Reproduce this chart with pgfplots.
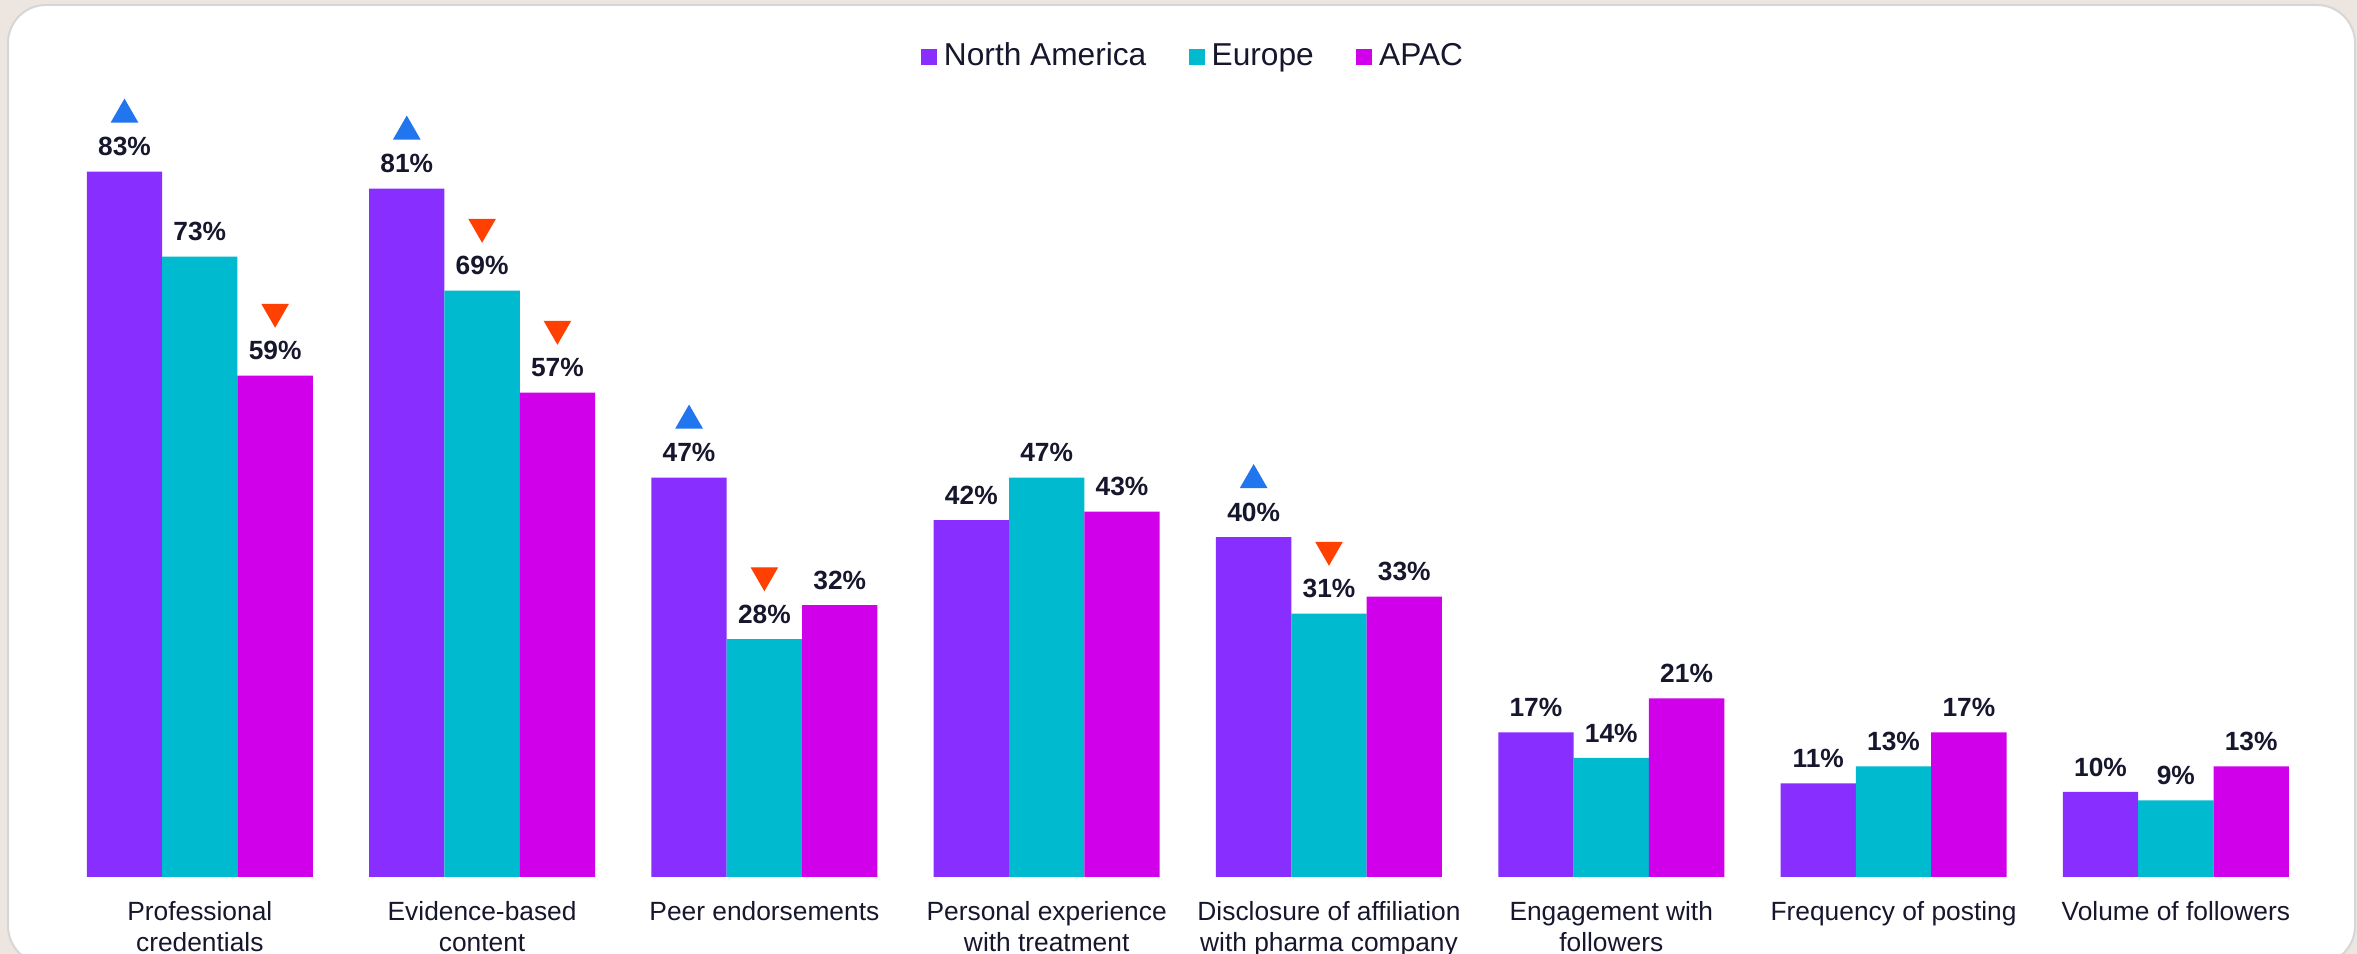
\documentclass[border=0pt]{standalone}
\usepackage{pgfplots}
\pgfplotsset{compat=1.18}
\usepackage{fontspec}
\setmainfont{Liberation Sans}
\definecolor{bgbeige}{RGB}{236,229,224}
\definecolor{cardedge}{RGB}{214,214,214}
\definecolor{navy}{RGB}{22,22,45}
\definecolor{colNA}{RGB}{136,46,255}
\definecolor{colEU}{RGB}{0,186,208}
\definecolor{colAP}{RGB}{209,0,234}
\definecolor{upblue}{RGB}{33,117,238}
\definecolor{downred}{RGB}{255,64,0}
\begin{document}
\begin{tikzpicture}
\path[use as bounding box] (0pt,0pt) rectangle (707.1pt,286.2pt);
\clip (0pt,0pt) rectangle (707.1pt,286.2pt);
\fill[bgbeige] (0pt,0pt) rectangle (707.1pt,286.2pt);
\draw[cardedge, line width=0.6pt, fill=white, rounded corners=11.4pt] (2.4pt,-3pt) rectangle (706.5pt,284.7pt);
\begin{axis}[
  at={(17.6pt,23.1pt)}, anchor=south west,
  scale only axis, width=677.5pt, height=229.5pt,
  xmin=-0.5, xmax=7.5, ymin=0, ymax=90,
  ybar=0pt, bar width=22.6pt,
  axis line style={draw=none}, tick style={draw=none},
  ytick=\empty,
  xtick={0,1,2,3,4,5,6,7},
  xticklabels={Professional\\credentials, Evidence-based\\content, Peer endorsements, Personal experience\\with treatment, Disclosure of affiliation\\with pharma company, Engagement with\\followers, Frequency of posting, Volume of followers},
  xticklabel style={align=center, font=\fontsize{7.9}{9.5}\selectfont, text=navy, yshift=0.6pt},
  /pgf/number format/assume math mode=true,
  legend columns=3,
  legend style={draw=none, fill=none, at={(0.5034,1.072)}, anchor=center,
    font=\fontsize{9.5}{11}\selectfont, text=navy,
    /tikz/every even column/.append style={column sep=10.8pt},
    /tikz/every odd column/.append style={column sep=0pt}},
  every node near coord/.append style={font=\bfseries\fontsize{7.9}{9}\selectfont, text=navy, anchor=center, yshift=7.5pt},
  clip=false,
]
\addplot[fill=colNA, draw=none, nodes near coords={\pgfmathprintnumber{\pgfplotspointmeta}\%},
  legend image code/.code={\fill[colNA] (0pt,-2.4pt) rectangle (4.8pt,2.4pt);}]
  coordinates {(0,83) (1,81) (2,47) (3,42) (4,40) (5,17) (6,11) (7,10)};
\addlegendentry{North America}
\addplot[fill=colEU, draw=none, nodes near coords={\pgfmathprintnumber{\pgfplotspointmeta}\%},
  legend image code/.code={\fill[colEU] (0pt,-2.4pt) rectangle (4.8pt,2.4pt);}]
  coordinates {(0,73) (1,69) (2,28) (3,47) (4,31) (5,14) (6,13) (7,9)};
\addlegendentry{Europe}
\addplot[fill=colAP, draw=none, nodes near coords={\pgfmathprintnumber{\pgfplotspointmeta}\%},
  legend image code/.code={\fill[colAP] (0pt,-2.4pt) rectangle (4.8pt,2.4pt);}]
  coordinates {(0,59) (1,57) (2,32) (3,43) (4,33) (5,21) (6,17) (7,13)};
\addlegendentry{APAC}
\addplot[forget plot, only marks, mark=triangle*, mark size=4.4pt, color=upblue, bar shift=0pt,
  mark options={draw=none, fill=upblue}]
  coordinates {(-0.2668,89.7) (0.7332,87.7) (1.7332,53.7) (3.7332,46.7)};
\addplot[forget plot, only marks, mark=triangle*, mark size=4.4pt, color=downred, bar shift=0pt,
  mark options={draw=none, fill=downred, rotate=180}]
  coordinates {(0.2668,66.5) (1,76.5) (1.2668,64.5) (2,35.5) (4,38.5)};
\end{axis}
\end{tikzpicture}
\end{document}
